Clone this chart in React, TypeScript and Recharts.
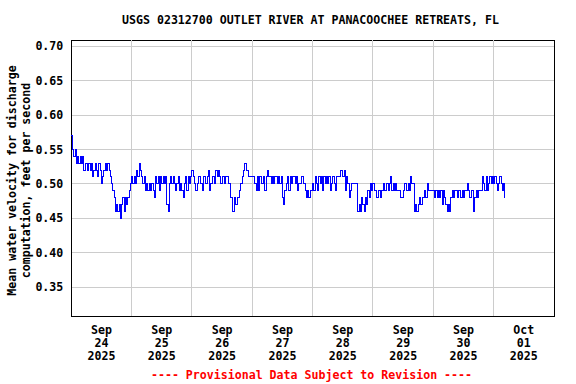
import { LineChart, Line, XAxis, YAxis, CartesianGrid, ReferenceLine, ReferenceArea } from 'recharts';

// Mean water velocity, hundredths of ft/s, read every 30 minutes
const sep24 = [57, 55, 54, 55, 53, 54, 53, 54, 53, 54, 52, 53, 53, 52, 53, 52, 53, 51, 52, 53, 52, 51, 53, 52, 50, 51, 52, 53, 52, 53, 52, 51, 50, 49, 48, 46, 47, 46, 47, 45, 47, 48, 46, 48, 47, 48, 49, 50];
const sep25 = [51, 50, 51, 50, 52, 51, 53, 52, 51, 50, 51, 49, 50, 49, 50, 49, 50, 49, 48, 51, 50, 51, 49, 51, 50, 51, 50, 51, 47, 46, 50, 51, 50, 51, 50, 49, 50, 51, 49, 50, 49, 48, 50, 51, 49, 51, 50, 51];
const sep26 = [52, 51, 50, 49, 50, 51, 51, 50, 49, 51, 51, 50, 51, 52, 49, 50, 51, 51, 50, 52, 51, 52, 51, 50, 51, 51, 50, 51, 51, 50, 50, 48, 46, 46, 48, 47, 48, 48, 49, 50, 51, 52, 53, 52, 52, 51, 51, 51];
const sep27 = [51, 51, 50, 49, 51, 49, 51, 50, 50, 51, 49, 51, 52, 51, 51, 50, 51, 50, 51, 51, 50, 51, 50, 51, 48, 47, 49, 50, 51, 49, 51, 50, 51, 51, 50, 51, 49, 50, 50, 51, 51, 50, 49, 48, 49, 48, 49, 49];
const sep28 = [50, 49, 51, 50, 49, 51, 50, 51, 49, 51, 50, 51, 50, 51, 49, 50, 51, 50, 49, 51, 51, 51, 52, 52, 51, 52, 49, 51, 50, 48, 49, 50, 50, 50, 50, 50, 46, 47, 46, 48, 47, 46, 48, 47, 49, 48, 50, 49];
const sep29 = [50, 49, 49, 48, 49, 49, 48, 49, 50, 49, 49, 50, 49, 50, 51, 49, 50, 49, 50, 49, 49, 49, 48, 48, 49, 50, 50, 49, 50, 49, 51, 50, 50, 46, 47, 46, 47, 48, 47, 48, 48, 49, 48, 50, 49, 49, 49, 49];
const sep30 = [49, 48, 49, 48, 49, 48, 49, 47, 49, 48, 47, 46, 47, 46, 48, 49, 48, 49, 49, 48, 49, 49, 48, 49, 48, 49, 49, 50, 49, 48, 49, 49, 46, 48, 49, 48, 49, 49, 49, 51, 50, 49, 51, 49, 50, 51, 50, 51];
const oct01 = [50, 51, 50, 49, 50, 51, 50, 49, 50, 48];

const dayLabels = [
  ['Sep', '24', '2025'],
  ['Sep', '25', '2025'],
  ['Sep', '26', '2025'],
  ['Sep', '27', '2025'],
  ['Sep', '28', '2025'],
  ['Sep', '29', '2025'],
  ['Sep', '30', '2025'],
  ['Oct', '01', '2025'],
];
const labelTicks = [0.5, 1.5, 2.5, 3.5, 4.5, 5.5, 6.5, 7.5];
const dayBoundaries = [1, 2, 3, 4, 5, 6, 7];
const yTicks = [0.35, 0.4, 0.45, 0.5, 0.55, 0.6, 0.65, 0.7];

const samplesPerDay = 48;
const yMin = 0.3074;
const yMax = 0.7092;

const data = [sep24, sep25, sep26, sep27, sep28, sep29, sep30, oct01]
  .flat()
  .map((v, i) => ({ day: i / samplesPerDay, velocity: v / 100 }));

const font = '"DejaVu Sans Mono", monospace';
const fontSize = 11.6;

function DayTick({ x, y, payload }: any) {
  const lines = dayLabels[Math.floor(payload.value)] || [];
  return (
    <g>
      {lines.map((s, i) => (
        <text key={i} x={x} y={y + 10 + i * 13} textAnchor="middle" fontFamily={font} fontSize={fontSize} fontWeight="bold" fill="#000">
          {s}
        </text>
      ))}
    </g>
  );
}

export default function App() {
  return (
    <div style={{ position: 'absolute', left: 0, top: 0, width: 576, height: 384, background: '#fff' }}>
      <LineChart width={576} height={384} data={data} margin={{ top: 40, right: 22, bottom: 0, left: 0 }}>
        <CartesianGrid vertical={false} stroke="#cccccc" shapeRendering="crispEdges" />
        <XAxis
          dataKey="day"
          type="number"
          domain={[0, 8]}
          ticks={labelTicks}
          height={67.7}
          axisLine={false}
          tickLine={false}
          tick={<DayTick />}
          interval={0}
        />
        <YAxis
          type="number"
          domain={[yMin, yMax]}
          ticks={yTicks}
          allowDataOverflow
          width={71.3}
          axisLine={false}
          tickLine={false}
          tickFormatter={(v: number) => v.toFixed(2)}
          tick={{ fill: '#000', fontSize, fontFamily: font, fontWeight: 'bold' }}
        />
        {dayBoundaries.map((d) => (
          <ReferenceLine key={d} x={d} stroke="#cccccc" shapeRendering="crispEdges" />
        ))}
        <Line
          type="stepAfter"
          dataKey="velocity"
          stroke="#0000ff"
          strokeWidth={1}
          dot={false}
          shapeRendering="crispEdges"
          isAnimationActive={false}
        />
        <ReferenceArea
          x1={0}
          x2={8}
          y1={yMin}
          y2={yMax}
          fill="none"
          stroke="#000"
          strokeWidth={1}
          shapeRendering="crispEdges"
          ifOverflow="visible"
        />
      </LineChart>
      <svg width={576} height={384} style={{ position: 'absolute', left: 0, top: 0, pointerEvents: 'none' }}>
        <text x={310.5} y={23.5} textAnchor="middle" fontFamily={font} fontSize={fontSize} fontWeight="bold" fill="#000">
          USGS 02312700 OUTLET RIVER AT PANACOOCHEE RETREATS, FL
        </text>
        <g transform="translate(15.5,180.5) rotate(-90)">
          <text x={0} y={0} textAnchor="middle" fontFamily={font} fontSize={fontSize} fontWeight="bold" fill="#000">
            Mean water velocity for discharge
          </text>
          <text x={0} y={14} textAnchor="middle" fontFamily={font} fontSize={fontSize} fontWeight="bold" fill="#000">
            computation, feet per second
          </text>
        </g>
        <text x={311.5} y={378.5} textAnchor="middle" fontFamily={font} fontSize={fontSize} fontWeight="bold" fill="#ff0000">
          ---- Provisional Data Subject to Revision ----
        </text>
      </svg>
    </div>
  );
}
